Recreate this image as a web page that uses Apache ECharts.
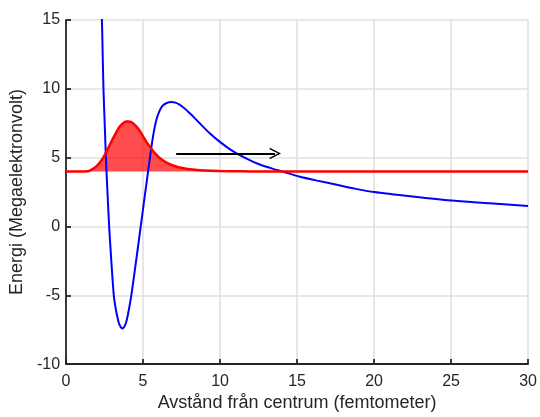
<!DOCTYPE html>
<html><head><meta charset="utf-8">
<script src="https://cdn.jsdelivr.net/npm/echarts@6/dist/echarts.min.js"></script>
<style>html,body{margin:0;padding:0;background:#fff}#c{width:540px;height:417px}</style>
</head><body><div id="c"></div>
<script>
// Potential energy curve (blue): [distance fm, energy MeV]
const potentialX = [2.2, 2.33, 2.38, 2.43, 2.51, 2.59, 2.69, 2.8, 2.94, 3.1, 3.2, 3.3, 3.4, 3.5, 3.58, 3.66, 3.74, 3.82, 3.92, 4.02, 4.12, 4.24, 4.55, 4.85, 5.05, 5.22, 5.4, 5.56, 5.72, 5.88, 6.05, 6.25, 6.5, 6.83, 7.1, 7.37, 7.7, 8.02, 8.34, 8.66, 9.31, 9.95, 10.6, 11.25, 11.89, 12.54, 13.4, 14.27, 15.13, 16.3, 17.5, 18.75, 20, 22.5, 25, 27.5, 30];
const potentialY = [18, 15, 12.5, 10, 7.5, 5, 2.5, 0, -2.5, -5, -5.8, -6.4, -6.9, -7.2, -7.35, -7.41, -7.35, -7.2, -6.9, -6.4, -5.8, -5, -2.5, 0, 1.7, 3.1, 4.6, 5.9, 7.0, 7.8, 8.35, 8.75, 8.95, 9.05, 9.0, 8.85, 8.57, 8.24, 7.89, 7.52, 6.79, 6.18, 5.64, 5.2, 4.84, 4.52, 4.2, 3.92, 3.63, 3.33, 3.05, 2.75, 2.5, 2.17, 1.88, 1.69, 1.49];
// Wave packet (red), on baseline energy level 4 MeV
const packetX = [0, 1.2, 1.5, 1.76, 2.0, 2.2, 2.42, 2.63, 2.85, 3.06, 3.28, 3.49, 3.7, 3.9, 4.05, 4.2, 4.4, 4.57, 4.78, 5.0, 5.2, 5.43, 5.75, 6.08, 6.4, 6.72, 7.05, 7.37, 7.8, 8.23, 9.09, 10, 11, 12, 30];
const packetY = [4, 4, 4.03, 4.19, 4.4, 4.65, 5.0, 5.45, 5.95, 6.42, 6.88, 7.27, 7.5, 7.62, 7.63, 7.6, 7.45, 7.25, 6.95, 6.55, 6.18, 5.81, 5.35, 4.97, 4.72, 4.53, 4.39, 4.28, 4.2, 4.14, 4.06, 4.03, 4.01, 4, 4];
const baseLevel = 4;
// Arrow
const arrowStart = [7.15, 5.3];
const arrowEnd = [13.57, 5.3];
// Ticks
const xTicks = [0, 5, 10, 15, 20, 25, 30];
const yTicks = [-10, -5, 0, 5, 10, 15];
const xName = 'Avstånd från centrum (femtometer)';
const yName = 'Energi (Megaelektronvolt)';

const zip = (a, b) => a.map((v, i) => [v, b[i]]);
const font = 'Liberation Sans, Arial, Helvetica, sans-serif';
const axisCommon = {
  axisLine: {show: true, onZero: false, lineStyle: {color: '#262626', width: 1.8}},
  axisTick: {show: true, inside: true, length: 5, lineStyle: {color: '#262626', width: 1.8}},
  splitLine: {show: true, lineStyle: {color: '#e0e0e0', width: 1.6}},
  nameLocation: 'middle',
  nameTextStyle: {color: '#262626', fontSize: 18, fontFamily: font}
};
const chart = echarts.init(document.getElementById('c'), null, {renderer: 'canvas'});
chart.setOption({
  animation: false,
  backgroundColor: '#fff',
  grid: {left: 66, right: 9.5, top: 20, bottom: 52, containLabel: false},
  xAxis: Object.assign({}, axisCommon, {
    type: 'value', min: xTicks[0], max: xTicks[xTicks.length - 1], interval: 5,
    axisLabel: {color: '#262626', fontSize: 16, fontFamily: font, margin: 9},
    name: xName, nameGap: 26
  }),
  yAxis: Object.assign({}, axisCommon, {
    type: 'value', min: yTicks[0], max: yTicks[yTicks.length - 1], interval: 5,
    axisLabel: {color: '#262626', fontSize: 16, fontFamily: font, margin: 6},
    name: yName, nameGap: 29
  }),
  series: [
    {
      type: 'line', data: zip(potentialX, potentialY), showSymbol: false, symbol: 'none',
      smooth: 0.25, clip: true,
      lineStyle: {color: '#0000ff', width: 2}
    },
    {
      type: 'line', data: zip(packetX, packetY), showSymbol: false, symbol: 'none',
      smooth: 0.25, clip: true,
      lineStyle: {color: '#ff0000', width: 2.5},
      areaStyle: {color: '#ff0000', opacity: 0.7, origin: baseLevel}
    },
    {
      type: 'line', data: [], symbol: 'none',
      markLine: {
        silent: true, animation: false,
        symbol: ['none', 'path://M5,0 L10,9 L9,10 L5,2.5 L1,10 L0,9 Z'],
        symbolSize: [11, 12],
        label: {show: false},
        lineStyle: {color: '#000', width: 2, type: 'solid'},
        data: [[{coord: arrowStart}, {coord: arrowEnd}]]
      }
    }
  ]
});
</script></body></html>
